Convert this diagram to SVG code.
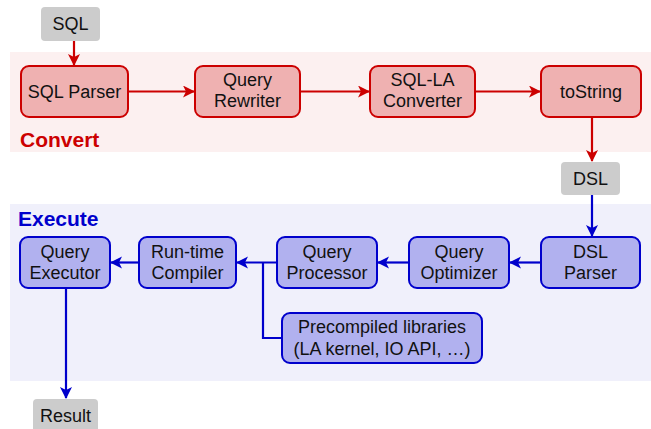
<svg xmlns="http://www.w3.org/2000/svg" width="651" height="429" viewBox="0 0 651 429">
<style>
text{font-family:"Liberation Sans",Arial,sans-serif;font-size:18px;fill:#111;text-anchor:middle}
.band-label{font-weight:bold;font-size:21px;text-anchor:start}
.red{fill:#efb1b1;stroke:#cc0000;stroke-width:2}
.blue{fill:#b1b1ef;stroke:#0000cc;stroke-width:2}
.gray{fill:#cccccc;stroke:none}
.cr{stroke:#cc0000;stroke-width:2.2;fill:none}
.cb{stroke:#0000cc;stroke-width:2.2;fill:none}
</style>
<defs>
<marker id="ar" markerUnits="userSpaceOnUse" markerWidth="14" markerHeight="14" refX="11" refY="6" orient="auto"><path d="M0,0 L12,6 L0,12 L3,6 Z" fill="#cc0000"/></marker>
<marker id="ab" markerUnits="userSpaceOnUse" markerWidth="14" markerHeight="14" refX="11" refY="6" orient="auto"><path d="M0,0 L12,6 L0,12 L3,6 Z" fill="#0000cc"/></marker>
</defs>
<rect x="0" y="0" width="651" height="429" fill="#ffffff"/>
<g id="convert-band">
<rect x="10" y="52" width="641" height="100" fill="#fcf0f0"/>
<text class="band-label" x="20" y="147" style="fill:#cc0000">Convert</text>
</g>
<g id="execute-band">
<rect x="10" y="204" width="641" height="177" fill="#f0f0fb"/>
<text class="band-label" x="18" y="226" style="fill:#0000cc">Execute</text>
</g>
<g id="connectors">
<path class="cr" d="M74,40 V65" marker-end="url(#ar)"/>
<path class="cr" d="M128,91.5 H194" marker-end="url(#ar)"/>
<path class="cr" d="M300,91.5 H369" marker-end="url(#ar)"/>
<path class="cr" d="M475,91.5 H540" marker-end="url(#ar)"/>
<path class="cr" d="M592,117 V161" marker-end="url(#ar)"/>
<path class="cb" d="M592,195 V236" marker-end="url(#ab)"/>
<path class="cb" d="M541,262.5 H510" marker-end="url(#ab)"/>
<path class="cb" d="M409,262.5 H378" marker-end="url(#ab)"/>
<path class="cb" d="M277,262.5 H237" marker-end="url(#ab)"/>
<path class="cb" d="M282,338 H263 V262.5"/>
<path class="cb" d="M139,262.5 H111" marker-end="url(#ab)"/>
<path class="cb" d="M66,288 V398" marker-end="url(#ab)"/>
</g>
<g id="sql"><rect class="gray" x="41" y="7" width="59" height="34" rx="4"/><text x="70.5" y="30">SQL</text></g>
<g id="sql-parser"><rect class="red" x="21" y="66" width="107" height="51" rx="8"/><text x="74.5" y="98">SQL Parser</text></g>
<g id="query-rewriter"><rect class="red" x="195" y="66" width="105" height="51" rx="8"/><text x="247.5" y="86">Query</text><text x="247.5" y="107">Rewriter</text></g>
<g id="sql-la-converter"><rect class="red" x="370" y="66" width="105" height="51" rx="8"/><text x="422.5" y="86">SQL-LA</text><text x="422.5" y="107">Converter</text></g>
<g id="tostring"><rect class="red" x="541" y="66" width="100" height="51" rx="8"/><text x="591" y="98">toString</text></g>
<g id="dsl"><rect class="gray" x="561" y="162" width="59" height="33" rx="4"/><text x="590.5" y="185">DSL</text></g>
<g id="dsl-parser"><rect class="blue" x="541" y="237" width="99" height="51" rx="8"/><text x="590.5" y="258">DSL</text><text x="590.5" y="279">Parser</text></g>
<g id="query-optimizer"><rect class="blue" x="409" y="237" width="100" height="51" rx="8"/><text x="459" y="258">Query</text><text x="459" y="279">Optimizer</text></g>
<g id="query-processor"><rect class="blue" x="277" y="237" width="100" height="51" rx="8"/><text x="327" y="258">Query</text><text x="327" y="279">Processor</text></g>
<g id="runtime-compiler"><rect class="blue" x="139" y="237" width="97" height="51" rx="8"/><text x="187.5" y="258">Run-time</text><text x="187.5" y="279">Compiler</text></g>
<g id="query-executor"><rect class="blue" x="20" y="237" width="90" height="51" rx="8"/><text x="65" y="258">Query</text><text x="65" y="279">Executor</text></g>
<g id="precompiled"><rect class="blue" x="282" y="313" width="200" height="50" rx="8"/><text x="382" y="333">Precompiled libraries</text><text x="382" y="355">(LA kernel, IO API, …)</text></g>
<g id="result"><rect class="gray" x="33" y="399" width="65" height="36" rx="4"/><text x="65.5" y="422">Result</text></g>
</svg>
